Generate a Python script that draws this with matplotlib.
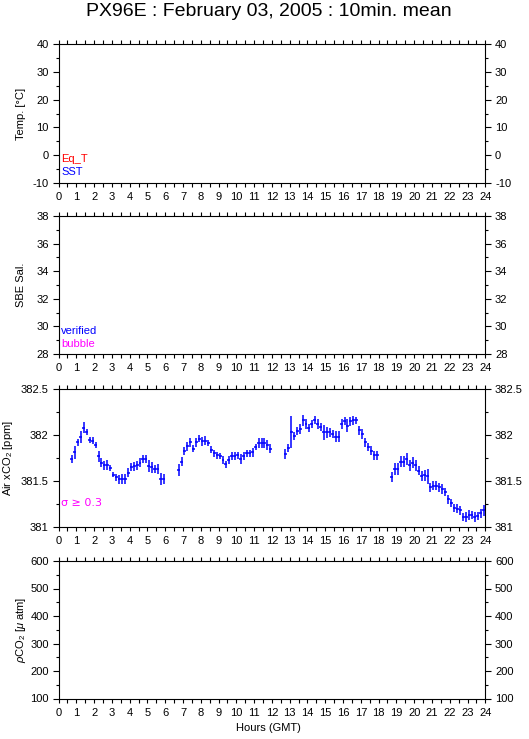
import matplotlib
matplotlib.use('Agg')
import matplotlib.pyplot as plt
from matplotlib.ticker import MultipleLocator, FuncFormatter

plt.rcParams['font.family'] = ['Liberation Sans', 'DejaVu Sans']
plt.rcParams['mathtext.fontset'] = 'custom'
plt.rcParams['mathtext.rm'] = 'Liberation Sans'
plt.rcParams['mathtext.it'] = 'Liberation Sans:italic'

# ---------------- data ----------------
title = "PX96E : February 03, 2005 : 10min. mean"

# 10-minute bin centres (minutes after 00:00 GMT)
time_min = [
    45, 55, 65, 75, 85, 95, 105, 115, 125, 135, 145, 155, 165, 175, 185, 195,
    205, 215, 225, 235, 245, 255, 265, 275, 285, 295, 305, 315, 325, 335, 345, 355,
    405, 415, 425, 435, 445, 455, 465, 475, 485, 495, 505, 515, 525, 535, 545, 555,
    565, 575, 585, 595, 605, 615, 625, 635, 645, 655, 665, 675, 685, 695, 705, 715,
    765, 775, 785, 795, 805, 815, 825, 835, 845, 855, 865, 875, 885, 895, 905, 915,
    925, 935, 945, 955, 965, 975, 985, 995, 1005, 1015, 1025, 1035, 1045, 1055, 1065, 1075,
    1125, 1135, 1145, 1155, 1165, 1175, 1185, 1195, 1205, 1215, 1225, 1235, 1245, 1255, 1265, 1275,
    1285, 1295, 1305, 1315, 1325, 1335, 1345, 1355, 1365, 1375, 1385, 1395, 1405, 1415, 1425, 1435,
]

air_xco2 = [
    381.74, 381.81, 381.92, 381.98, 382.08, 382.03, 381.95, 381.94, 381.89, 381.77, 381.70, 381.67,
    381.67, 381.64, 381.57, 381.54, 381.52, 381.52, 381.52, 381.59, 381.65, 381.66, 381.67, 381.70,
    381.74, 381.74, 381.66, 381.65, 381.63, 381.63, 381.52, 381.52,
    381.62, 381.71, 381.83, 381.88, 381.92, 381.85, 381.92, 381.96, 381.93, 381.94, 381.91, 381.84,
    381.80, 381.78, 381.77, 381.73, 381.68, 381.73, 381.77, 381.77, 381.78, 381.74, 381.77, 381.80,
    381.80, 381.81, 381.87, 381.91, 381.91, 381.91, 381.89, 381.85,
    381.79, 381.86, 382.03, 381.99, 382.04, 382.07, 382.16, 382.12, 382.08, 382.12, 382.16, 382.12,
    382.09, 382.03, 382.03, 382.03, 382.01, 381.98, 381.98, 382.12, 382.15, 382.10, 382.15, 382.16,
    382.16, 382.05, 382.01, 381.92, 381.87, 381.83, 381.78, 381.78,
    381.54, 381.63, 381.63, 381.71, 381.71, 381.74, 381.67, 381.70, 381.67, 381.61, 381.55, 381.56,
    381.55, 381.43, 381.45, 381.45, 381.43, 381.41, 381.38, 381.30, 381.26, 381.21, 381.20, 381.18,
    381.11, 381.11, 381.13, 381.13, 381.11, 381.12, 381.15, 381.18,
]

air_xco2_sd = [
    0.045, 0.067, 0.036, 0.063, 0.060, 0.031, 0.033, 0.033, 0.036, 0.060, 0.051, 0.051,
    0.054, 0.033, 0.027, 0.036, 0.049, 0.051, 0.051, 0.051, 0.045, 0.049, 0.049, 0.049,
    0.045, 0.040, 0.063, 0.058, 0.045, 0.054, 0.063, 0.054,
    0.069, 0.051, 0.045, 0.049, 0.049, 0.036, 0.051, 0.036, 0.045, 0.049, 0.031, 0.040,
    0.040, 0.040, 0.036, 0.043, 0.040, 0.040, 0.045, 0.045, 0.040, 0.054, 0.045, 0.040,
    0.040, 0.045, 0.036, 0.054, 0.054, 0.054, 0.053, 0.049,
    0.054, 0.045, 0.176, 0.042, 0.042, 0.054, 0.060, 0.054, 0.045, 0.045, 0.045, 0.053,
    0.043, 0.083, 0.060, 0.049, 0.045, 0.060, 0.060, 0.054, 0.045, 0.072, 0.051, 0.049,
    0.040, 0.045, 0.054, 0.051, 0.043, 0.051, 0.051, 0.051,
    0.054, 0.063, 0.063, 0.060, 0.060, 0.067, 0.062, 0.060, 0.063, 0.049, 0.054, 0.063,
    0.082, 0.045, 0.049, 0.051, 0.049, 0.054, 0.042, 0.045, 0.040, 0.045, 0.051, 0.049,
    0.045, 0.051, 0.051, 0.045, 0.051, 0.045, 0.051, 0.058,
]

bin_half_width_min = 5

hour_ticks = list(range(0, 25))

panel_ylabels = ["Temp. [°C]", "SBE Sal.", r"Air xCO$_2$ [ppm]", r"$\rho$CO$_2$ [$\mu$ atm]"]
panel_ylims = [(-10, 40), (28, 38), (381, 382.5), (100, 600)]
panel_major = [10, 2, 0.5, 100]
panel_minor = [5, 1, 0.25, 50]

# ---------------- figure ----------------
W, H = 529, 739
fig = plt.figure(figsize=(W / 100, H / 100), dpi=100)

def fx(px):
    return px / W

def fy(py):
    return 1 - py / H

left, right = 58.5, 485.3
panel_px = [(44, 183), (216, 354), (389, 527), (561, 698.5)]
ylabel_x = [21, 21, 8, 21]

axes = []
for i, (top, bot) in enumerate(panel_px):
    ax = fig.add_axes([fx(left), fy(bot), fx(right) - fx(left), (bot - top) / H])
    ax.set_xlim(0, 24)
    ax.set_ylim(*panel_ylims[i])
    ax.xaxis.set_major_locator(MultipleLocator(1))
    ax.xaxis.set_minor_locator(MultipleLocator(0.5))
    ax.yaxis.set_major_locator(MultipleLocator(panel_major[i]))
    ax.yaxis.set_minor_locator(MultipleLocator(panel_minor[i]))
    ax.set_xticks(hour_ticks)
    ax.set_xticklabels([str(h) for h in hour_ticks])
    ax.yaxis.set_major_formatter(FuncFormatter(lambda v, p: '%g' % v))
    ax.tick_params(axis='x', which='both', direction='out', top=True, bottom=True,
                   length=3, width=0.8, labelsize=8, pad=3.5, colors='black')
    ax.tick_params(axis='y', which='major', direction='out', left=True, right=True,
                   labelleft=True, labelright=True, length=4.5, width=0.8, labelsize=8, pad=2.5)
    ax.tick_params(axis='y', which='minor', direction='out', left=True, right=True,
                   length=2.2, width=0.8)
    for s in ax.spines.values():
        s.set_linewidth(0.8)
    fig.text(fx(ylabel_x[i]), fy((top + bot) / 2), panel_ylabels[i], rotation=90,
             ha='center', va='center', fontsize=8)
    axes.append(ax)

# Air xCO2 data
ax3 = axes[2]
hours = [t / 60 for t in time_min]
ax3.errorbar(hours, air_xco2, yerr=air_xco2_sd, xerr=bin_half_width_min / 60,
             fmt='none', ecolor='#0000ff', elinewidth=1.1, capsize=0)

# annotations
fig.text(fx(61), fy(159), "Eq_T", color='#ff0000', fontsize=8, ha='left', va='center')
fig.text(fx(61), fy(172), "SST", color='#0000ff', fontsize=8, ha='left', va='center')
fig.text(fx(61), fy(331), "verified", color='#0000ff', fontsize=8, ha='left', va='center')
fig.text(fx(61), fy(344), "bubble", color='#ff00ff', fontsize=8, ha='left', va='center')
fig.text(fx(61), fy(503), "σ ≥ 0.3", color='#ff00ff', fontsize=8, ha='left', va='center',
         family=['DejaVu Sans'])

fig.text(fx(268.5), fy(12), title, fontsize=14, ha='center', va='center')
fig.text(fx(268), fy(728), "Hours (GMT)", fontsize=8, ha='center', va='center')

fig.savefig('out.png', dpi=100)
